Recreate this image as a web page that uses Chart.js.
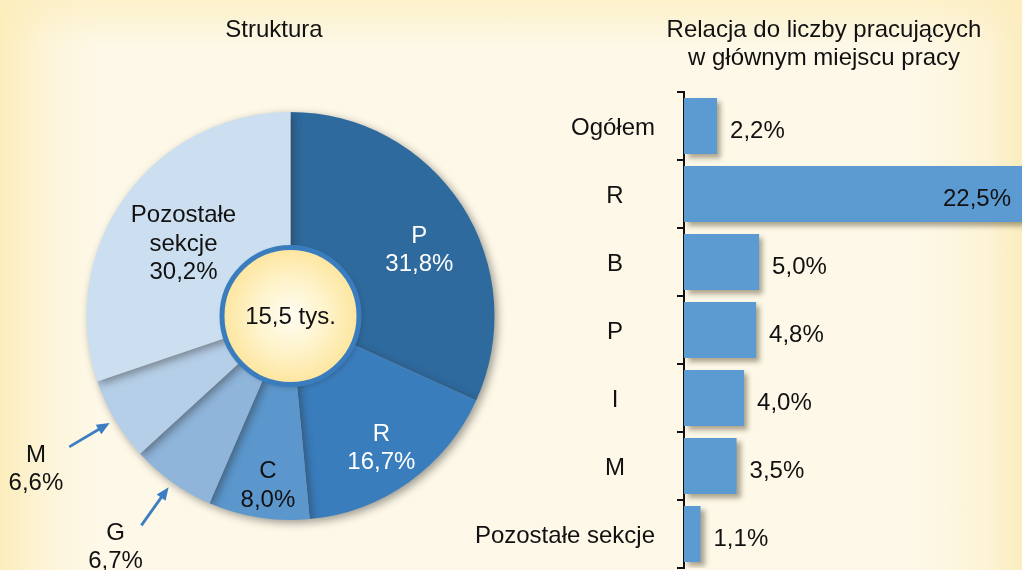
<!DOCTYPE html>
<html lang="pl">
<head>
    <meta charset="UTF-8">
    <title>Struktura - relacja do liczby pracujących</title>
    <script src="https://cdn.jsdelivr.net/npm/chart.js"></script>
    <style>
        html, body {
            margin: 0;
            padding: 0;
        }
        body {
            width: 1022px;
            height: 570px;
            overflow: hidden;
            position: relative;
            background:
                linear-gradient(to bottom, rgba(252, 238, 190, 0.7) 0, rgba(252, 238, 190, 0) 45px),
                linear-gradient(to right, #fcedbb 0, #fdf4d8 45px, #fdf8e7 95px, #fdf8e7 920px, #fdf3d6 985px, #fcedbf 1022px);
            font-family: 'Liberation Sans', Arial, sans-serif;
        }
        #pieChart {
            position: absolute;
            left: 0;
            top: 0;
        }
        #barChart {
            position: absolute;
            left: 460px;
            top: 0;
        }
    </style>
</head>
<body>
    <canvas id="pieChart" width="580" height="570"></canvas>
    <canvas id="barChart" width="562" height="570"></canvas>

    <script>
        // Struktura (pie)
        const pieLabels = ['P', 'R', 'C', 'G', 'M', 'Pozostałe sekcje'];
        const pieValues = [31.8, 16.7, 8.0, 6.7, 6.6, 30.2];
        const totalText = '15,5 tys.';

        // Relacja do liczby pracujących (bars)
        const barLabels = ['Ogółem', 'R', 'B', 'P', 'I', 'M', 'Pozostałe sekcje'];
        const barValues = [2.2, 22.5, 5.0, 4.8, 4.0, 3.5, 1.1];

        const pieColors = ['#2e6a9d', '#3a7dbd', '#5b97cd', '#8fb5db', '#b6cfe8', '#cbdff0'];
        const pieTextColors = ['#ffffff', '#ffffff', '#111111', '#111111', '#111111', '#111111'];
        const barColor = '#5c9bd1';
        const FONT = "'Liberation Sans', Arial, sans-serif";

        function fmt(v) {
            return v.toFixed(1).replace('.', ',') + '%';
        }

        const shadowPlugin = {
            id: 'shadow',
            beforeDatasetDraw(chart, args, opts) {
                const ctx = chart.ctx;
                ctx.save();
                ctx.shadowColor = opts.color;
                ctx.shadowBlur = opts.blur;
                ctx.shadowOffsetX = opts.x;
                ctx.shadowOffsetY = opts.y;
            },
            afterDatasetDraw(chart) {
                chart.ctx.restore();
            }
        };

        // labels, arrows, centre disc and title for the pie
        const pieDecor = {
            id: 'pieDecor',
            afterDatasetsDraw(chart, args, opts) {
                const ctx = chart.ctx;
                const arcs = chart.getDatasetMeta(0).data;
                const cx = arcs[0].x, cy = arcs[0].y;
                const R = arcs[0].outerRadius;
                const lh = 28.5;

                ctx.save();
                ctx.font = '24px ' + FONT;
                ctx.textAlign = 'center';
                ctx.textBaseline = 'middle';
                ctx.fillStyle = '#111';
                ctx.fillText('Struktura', 274, 30);

                arcs.forEach((arc, i) => {
                    const mid = (arc.startAngle + arc.endAngle) / 2;
                    const lines = pieLabels[i].split(' ').concat([fmt(pieValues[i])]);
                    const rr = opts.radius[i];
                    const ang = mid + opts.shift[i] * Math.PI / 180;
                    const lx = cx + Math.cos(ang) * R * rr, ly = cy + Math.sin(ang) * R * rr + 3;
                    if (pieValues[i] < 7) {
                        // small slice: label outside, pointed at by an arrow
                        const x1 = cx + Math.cos(mid) * R * 1.26, y1 = cy + Math.sin(mid) * R * 1.26;
                        const x2 = cx + Math.cos(mid) * R * 1.03, y2 = cy + Math.sin(mid) * R * 1.03;
                        const a = Math.atan2(y2 - y1, x2 - x1);
                        ctx.strokeStyle = '#3b7ec2';
                        ctx.fillStyle = '#3b7ec2';
                        ctx.lineWidth = 2.8;
                        ctx.beginPath();
                        ctx.moveTo(x1, y1);
                        ctx.lineTo(x2 - 8 * Math.cos(a), y2 - 8 * Math.sin(a));
                        ctx.stroke();
                        ctx.beginPath();
                        ctx.moveTo(x2, y2);
                        ctx.lineTo(x2 - 14 * Math.cos(a - 0.4), y2 - 14 * Math.sin(a - 0.4));
                        ctx.lineTo(x2 - 14 * Math.cos(a + 0.4), y2 - 14 * Math.sin(a + 0.4));
                        ctx.closePath();
                        ctx.fill();
                        ctx.fillStyle = '#111';
                    } else {
                        ctx.fillStyle = pieTextColors[i];
                    }
                    lines.forEach((t, k) => ctx.fillText(t, lx, ly + (k - (lines.length - 1) / 2) * lh));
                });

                // centre disc
                const r0 = 71;
                ctx.shadowColor = 'rgba(30,30,30,0.35)';
                ctx.shadowBlur = 6;
                ctx.shadowOffsetX = 2;
                ctx.shadowOffsetY = 2;
                const g = ctx.createRadialGradient(cx, cy, 0, cx, cy, r0);
                g.addColorStop(0, '#fffdf3');
                g.addColorStop(0.55, '#fef2c6');
                g.addColorStop(1, '#fde49a');
                ctx.beginPath();
                ctx.arc(cx, cy, r0 - 2.5, 0, Math.PI * 2);
                ctx.fillStyle = g;
                ctx.fill();
                ctx.shadowColor = 'transparent';
                ctx.lineWidth = 5;
                ctx.strokeStyle = '#3a7dbf';
                ctx.stroke();
                ctx.fillStyle = '#111';
                ctx.fillText(totalText, cx, cy + 1);
                ctx.restore();
            }
        };

        new Chart(document.getElementById('pieChart'), {
            type: 'pie',
            data: {
                labels: pieLabels,
                datasets: [{
                    data: pieValues,
                    backgroundColor: pieColors,
                    borderWidth: 0
                }]
            },
            options: {
                responsive: false,
                animation: false,
                layout: { padding: { left: 86.5, right: 85.5, top: 112, bottom: 50 } },
                plugins: {
                    legend: { display: false },
                    tooltip: { enabled: false },
                    shadow: { color: 'rgba(40,40,40,0.45)', blur: 8, x: 3, y: 3 },
                    pieDecor: {
                        radius: [0.715, 0.775, 0.825, 1.41, 1.45, 0.64],
                        shift: [4.8, 0.4, -1.3, 2.0, 0, -0.7]
                    }
                }
            },
            plugins: [shadowPlugin, pieDecor]
        });

        // category names, value labels and title for the bars
        const barDecor = {
            id: 'barDecor',
            afterDatasetsDraw(chart) {
                const ctx = chart.ctx;
                const area = chart.chartArea;
                const yScale = chart.scales.y;
                const bars = chart.getDatasetMeta(0).data;
                ctx.save();
                ctx.font = '24px ' + FONT;
                ctx.textBaseline = 'middle';
                ctx.fillStyle = '#111';
                ctx.textAlign = 'center';
                ctx.fillText('Relacja do liczby pracujących', 364, 30);
                ctx.fillText('w głównym miejscu pracy', 364, 58);

                barLabels.forEach((lab, i) => {
                    const y = yScale.getPixelForValue(i) + 2;
                    const w = ctx.measureText(lab).width;
                    const x = Math.min(area.left - 69, area.left - 29 - w / 2);
                    ctx.fillText(lab, x, y);
                });

                bars.forEach((bar, i) => {
                    const t = fmt(barValues[i]);
                    const w = ctx.measureText(t).width;
                    if (bar.x + 13 + w < area.right) {
                        ctx.textAlign = 'left';
                        ctx.fillText(t, bar.x + 13, bar.y + 5);
                    } else {
                        ctx.textAlign = 'right';
                        ctx.fillText(t, bar.x - 11, bar.y + 5);
                    }
                });
                ctx.restore();
            }
        };

        new Chart(document.getElementById('barChart'), {
            type: 'bar',
            data: {
                labels: barLabels,
                datasets: [{
                    data: barValues,
                    backgroundColor: barColor,
                    borderWidth: 0,
                    categoryPercentage: 1,
                    barPercentage: 0.82
                }]
            },
            options: {
                indexAxis: 'y',
                responsive: false,
                animation: false,
                layout: { padding: { left: 0, right: 0, top: 92, bottom: 2 } },
                scales: {
                    x: {
                        display: false,
                        min: 0,
                        max: 22.5
                    },
                    y: {
                        afterFit: s => { s.width = 224; },
                        ticks: { display: false },
                        grid: {
                            drawOnChartArea: false,
                            color: '#111',
                            lineWidth: 2,
                            tickLength: 7,
                            offset: true
                        },
                        border: { color: '#111', width: 2 }
                    }
                },
                plugins: {
                    legend: { display: false },
                    tooltip: { enabled: false },
                    shadow: { color: 'rgba(70,60,30,0.45)', blur: 5, x: 4, y: 4 }
                }
            },
            plugins: [shadowPlugin, barDecor]
        });
    </script>
</body>
</html>
